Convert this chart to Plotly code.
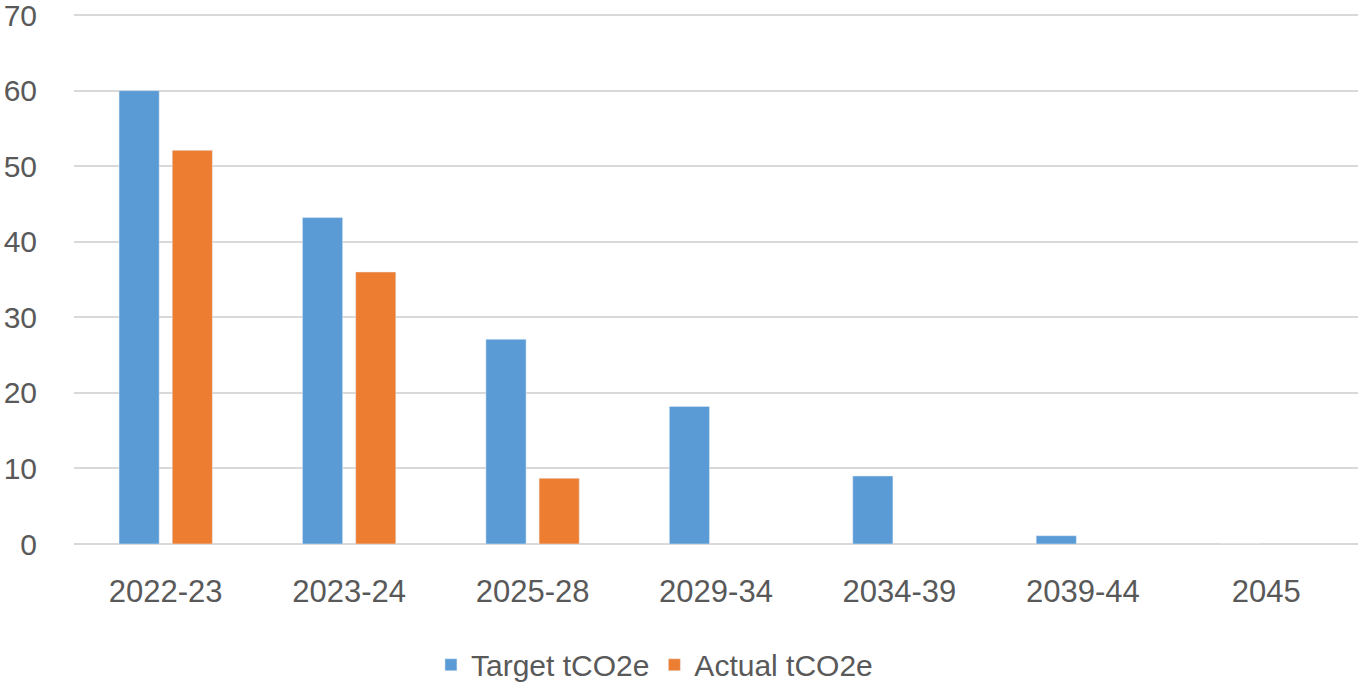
import plotly.graph_objects as go

categories = ["2022-23", "2023-24", "2025-28", "2029-34", "2034-39", "2039-44", "2045"]
target = [60, 43.2, 27.1, 18.2, 9.0, 1.1, 0]
actual = [52.1, 36.0, 8.7, None, None, None, None]
y_ticks = [0, 10, 20, 30, 40, 50, 60, 70]

FONT = "Liberation Sans, Arial, sans-serif"
TXT = "#595959"

fig = go.Figure()
fig.add_trace(go.Bar(x=categories, y=target, name="Target tCO2e", marker_color="#5B9BD5"))
fig.add_trace(go.Bar(x=categories, y=actual, name="Actual tCO2e", marker_color="#ED7D31"))

fig.update_layout(
    width=1359, height=687,
    margin=dict(l=74, r=1, t=0, b=143, autoexpand=False),
    plot_bgcolor="white", paper_bgcolor="white",
    barmode="group", bargap=0.42, bargroupgap=0.245,
    font=dict(family=FONT, color=TXT, size=31),
    legend=dict(orientation="h", x=0.278, xanchor="left", y=-0.222, yanchor="middle",
                font=dict(size=30, color=TXT), itemwidth=30, traceorder="normal"),
    xaxis=dict(showgrid=False, showline=False, ticks="", ticklabelstandoff=26,
               tickfont=dict(size=31, color=TXT)),
    yaxis=dict(range=[0, 72], tickvals=y_ticks, showgrid=True, gridcolor="#D9D9D9", gridwidth=1.5,
               zeroline=True, zerolinecolor="#D9D9D9", zerolinewidth=1.5,
               showline=False, ticks="", ticklabelstandoff=36, ticklabeloverflow="allow",
               tickfont=dict(size=30, color=TXT)),
)

fig.write_html("out.html")
